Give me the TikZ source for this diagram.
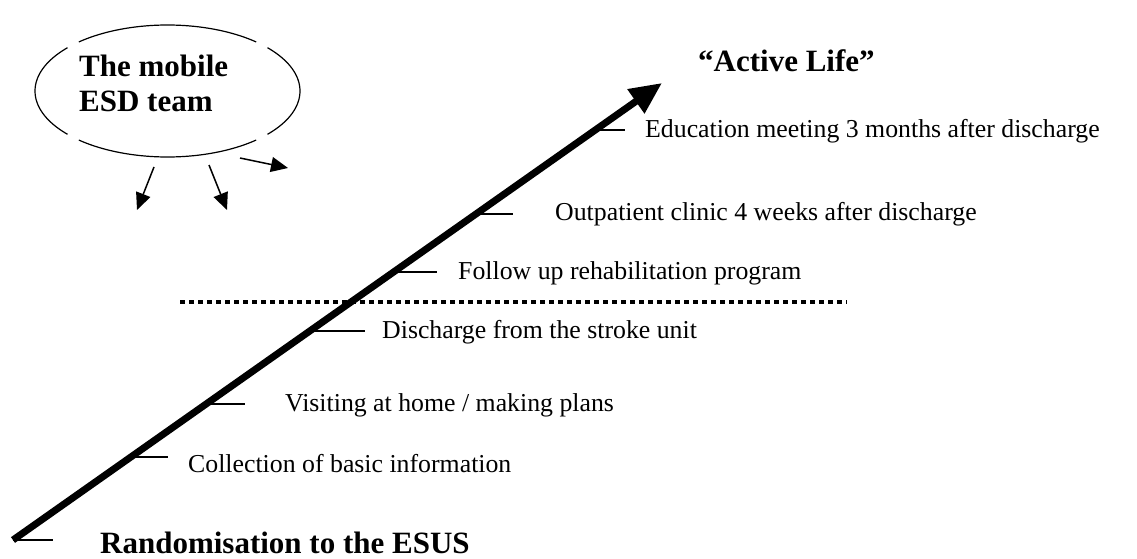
\documentclass[tikz,border=0pt]{standalone}
\usepackage{fontspec}
\setmainfont{Liberation Serif}
\usetikzlibrary{arrows.meta}
\begin{document}
\begin{tikzpicture}[x=1pt,y=-1pt,
  lbl/.style={anchor=base west, inner sep=0pt, font=\fontsize{25.8}{30}\selectfont},
  blbl/.style={anchor=base west, inner sep=0pt, font=\fontsize{31}{35}\selectfont\bfseries},
  markline/.style={line width=2.5pt},
  mainline/.style={line width=7pt, -{Triangle[length=32pt,width=28pt]}},
  smallarrow/.style={line width=1.5pt, -{Triangle[length=17pt,width=15pt]}},
  ovalarc/.style={line width=1.2pt},
  divider/.style={line width=4pt, dash pattern=on 5pt off 4pt}]
\useasboundingbox (0,0) rectangle (1137,559);

% ellipse drawn as four arcs with small gaps
\begin{scope}[shift={(167.5,91)}]
  \draw[ovalarc] plot[domain=48:132, samples=40] ({132.5*cos(\x)},{-66*sin(\x)});
  \draw[ovalarc] plot[domain=139:221, samples=40] ({132.5*cos(\x)},{-66*sin(\x)});
  \draw[ovalarc] plot[domain=228:312, samples=40] ({132.5*cos(\x)},{-66*sin(\x)});
  \draw[ovalarc] plot[domain=319:401, samples=40] ({132.5*cos(\x)},{-66*sin(\x)});
\end{scope}
\node[blbl] (team1) at (79,77) {The mobile};
\node[blbl] (team2) at (79,112) {ESD team};

% small arrows from the team
\coordinate (a1s) at (154,167); \coordinate (a1e) at (137,210);
\coordinate (a2s) at (209,165); \coordinate (a2e) at (227,210);
\coordinate (a3s) at (240,158); \coordinate (a3e) at (288,168);
\draw[smallarrow] (a1s) -- (a1e);
\draw[smallarrow] (a2s) -- (a2e);
\draw[smallarrow] (a3s) -- (a3e);

% divider
\coordinate (d1) at (180,302); \coordinate (d2) at (847,302);
\draw[divider] (d1) -- (d2);

% main arrow
\coordinate (s) at (13,540);
\coordinate (e) at (662,83);
\draw[mainline] (s) -- (e);

% ticks
\coordinate (t0e) at (53,540);
\coordinate (t1s) at (131,457); \coordinate (t1e) at (168,457);
\coordinate (t2s) at (206,404); \coordinate (t2e) at (245,404);
\coordinate (t3s) at (310,331); \coordinate (t3e) at (365,331);
\coordinate (t4s) at (394,272); \coordinate (t4e) at (437,272);
\coordinate (t5s) at (476,214); \coordinate (t5e) at (513,214);
\coordinate (t6s) at (595,130); \coordinate (t6e) at (625,130);
\draw[markline] (s) -- (t0e);
\draw[markline] (t1s) -- (t1e);
\draw[markline] (t2s) -- (t2e);
\draw[markline] (t3s) -- (t3e);
\draw[markline] (t4s) -- (t4e);
\draw[markline] (t5s) -- (t5e);
\draw[markline] (t6s) -- (t6e);

% labels
\node[lbl] (l1) at (188,472) {Collection of basic information};
\node[lbl] (l2) at (285,411) {Visiting at home / making plans};
\node[lbl] (l3) at (382,338) {Discharge from the stroke unit};
\node[lbl] (l4) at (458,279) {Follow up rehabilitation program};
\node[lbl] (l5) at (555,220) {Outpatient clinic 4 weeks after discharge};
\node[lbl] (l6) at (645,138) {Education meeting 3 months after discharge};
\node[blbl] (top) at (698,72) {``Active Life''};
\node[blbl] (bottom) at (100,553) {Randomisation to the ESUS};
\end{tikzpicture}
\end{document}
